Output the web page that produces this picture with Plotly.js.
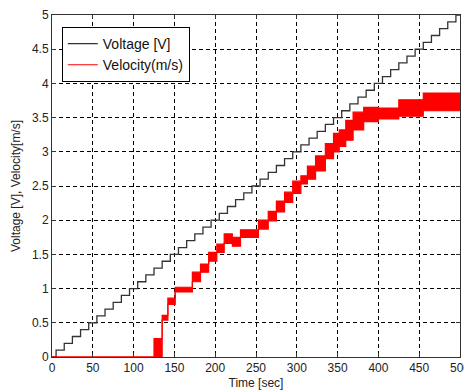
<!DOCTYPE html>
<html>
<head>
<meta charset="utf-8">
<script src="https://cdn.plot.ly/plotly-3.0.1.min.js"></script>
<style>html,body{margin:0;padding:0;background:#fff;}#chart{width:464px;height:390px;}</style>
</head>
<body>
<div id="chart"></div>
<script>
// Voltage staircase: step times (sec) and levels (V)
const voltTimes = [0,5,15,25,35,45,55,65,75,85,95,105,115,125,135,145,155,165,175,185,195,205,215,225,235,245,255,265,275,285,295,305,315,325,335,345,355,365,375,385,395,405,415,425,435,445,455,465,475,485,495,500];
const voltLevels = [0,0.1,0.2,0.3,0.4,0.5,0.6,0.7,0.8,0.9,1.0,1.1,1.2,1.3,1.4,1.5,1.6,1.7,1.8,1.9,2.0,2.1,2.2,2.3,2.4,2.5,2.6,2.7,2.8,2.9,3.0,3.1,3.2,3.3,3.4,3.5,3.6,3.7,3.8,3.9,4.0,4.1,4.2,4.3,4.4,4.5,4.6,4.7,4.8,4.9,5.0,5.0];

// Velocity: step times with lower / upper edge of the noisy band (m/s)
const velTimes = [0,125,135,142,151,172,182,192,202,211,221,231,253,265,275,285,295,305,313,323,335,345,352,360,369,382,400,425,455,500];
const velLow   = [0,0,0.54,0.77,0.95,1.10,1.24,1.40,1.53,1.66,1.62,1.75,1.87,1.99,2.12,2.26,2.39,2.53,2.60,2.72,2.90,3.00,3.08,3.17,3.32,3.44,3.48,3.52,3.60,3.60];
const velHigh  = [0,0.27,0.61,0.86,1.02,1.24,1.36,1.53,1.65,1.80,1.75,1.86,2.00,2.13,2.28,2.41,2.57,2.65,2.79,2.94,3.12,3.27,3.32,3.46,3.58,3.65,3.64,3.76,3.86,3.86];

const xTicks = [0,50,100,150,200,250,300,350,400,450,500];
const yTicks = [0,0.5,1,1.5,2,2.5,3,3.5,4,4.5,5];

const font = "Liberation Sans, Arial, sans-serif";

const traces = [
  {x: voltTimes, y: voltLevels, type: 'scatter', mode: 'lines', line: {shape: 'hv', color: '#333333', width: 1.3}, name: 'Voltage [V]'},
  {x: velTimes, y: velLow, type: 'scatter', mode: 'lines', line: {shape: 'hv', color: '#ff0000', width: 1.2}, name: 'Velocity(m/s)'},
  {x: velTimes, y: velHigh, type: 'scatter', mode: 'lines', line: {shape: 'hv', color: '#ff0000', width: 1.2}, fill: 'tonexty', fillcolor: '#ff0000', showlegend: false, name: 'Velocity upper'}
];

const axisCommon = {
  showline: true, mirror: 'ticks', linecolor: '#333333', linewidth: 1,
  ticks: 'inside', ticklen: 4, tickcolor: '#333333',
  showgrid: true, gridcolor: '#000000', gridwidth: 1, griddash: '4px,3px',
  zeroline: false, tickfont: {family: font, size: 12, color: '#222'}
};

const layout = {
  width: 464, height: 390,
  margin: {l: 52, r: 4, t: 15, b: 33},
  paper_bgcolor: '#fff', plot_bgcolor: '#fff',
  showlegend: true,
  legend: {x: 0.024, y: 0.965, xanchor: 'left', yanchor: 'top', traceorder: 'normal', bgcolor: '#fff', bordercolor: '#000', borderwidth: 1, font: {family: font, size: 14, color: '#111'}, tracegroupgap: 0},
  xaxis: Object.assign({}, axisCommon, {range: [0, 500], tickvals: xTicks, ticktext: xTicks.map(String), ticklabeloverflow: 'allow',
    title: {text: 'Time [sec]', font: {family: font, size: 12, color: '#222'}, standoff: 4}}),
  yaxis: Object.assign({}, axisCommon, {range: [0, 5], tickvals: yTicks, ticktext: yTicks.map(String),
    title: {text: 'Voltage [V], Velocity[m/s]', font: {family: font, size: 12, color: '#222'}, standoff: 8}})
};

Plotly.newPlot('chart', traces, layout, {displayModeBar: false, staticPlot: true});
</script>
</body>
</html>
